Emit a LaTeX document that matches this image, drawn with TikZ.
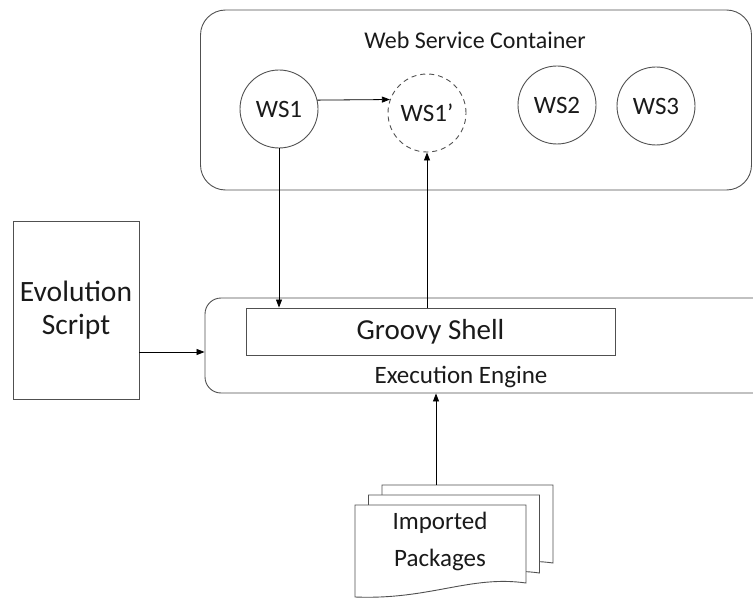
\documentclass[tikz,border=0pt]{standalone}
\usepackage{fontspec}
\setmainfont{Carlito}
\usetikzlibrary{arrows.meta}
\definecolor{ln}{HTML}{505050}
\definecolor{tx}{HTML}{1A1A1A}
\tikzset{
  box/.style={draw=ln, line width=0.9pt, inner sep=0pt, text=tx},
  ws/.style={draw=ln, line width=0.9pt, circle, minimum size=78pt, inner sep=0pt, font=\fontsize{25}{28}\selectfont, text=tx},
  arr/.style={draw=black, line width=0.8pt, -{Triangle[length=8pt,width=6pt]}},
  sheet/.style={draw=ln, line width=0.9pt, fill=white},
}
\begin{document}
\begin{tikzpicture}[x=1pt,y=-1pt]
\useasboundingbox (0,0) rectangle (753,599);
\clip (0,0) rectangle (753,599);
% web service container
\node[box, rounded corners=25pt, minimum width=551pt, minimum height=180pt] (wsc) at (476,100) {};
\node[text=tx, font=\fontsize{24}{28}\selectfont] (wsct) at (475,40) {Web Service Container};
\node[ws] (ws1) at (279,109) {WS1};
\node[ws, dashed, dash pattern=on 5pt off 4pt] (ws1p) at (427,113) {WS1’};
\node[ws] (ws2) at (557,105) {WS2};
\node[ws] (ws3) at (656,106) {WS3};
% execution engine
\node[box, rounded corners=16pt, minimum width=608pt, minimum height=95pt] (exec) at (509,345.5) {};
\node[text=tx, font=\fontsize{25}{28}\selectfont] (exect) at (461,377) {Execution Engine};
\node[box, minimum width=369pt, minimum height=47pt, font=\fontsize{29}{32}\selectfont] (groovy) at (430.5,331.5) {Groovy Shell};
% evolution script
\node[box, minimum width=126pt, minimum height=178pt, align=center, font=\fontsize{29.5}{33}\selectfont] (evo) at (76,310) {Evolution\\Script};
% imported packages
\draw[sheet] (382,485) -- (553,485) -- (553,563) .. controls (497,555) and (457,580) .. (382,577) -- cycle;
\draw[sheet] (368.5,495) -- (539.5,495) -- (539.5,573) .. controls (483.5,565) and (443.5,590) .. (368.5,587) -- cycle;
\draw[sheet] (355,505) -- (526,505) -- (526,583) .. controls (470,575) and (430,600) .. (355,597) -- cycle;
\node[text=tx, align=center, font=\fontsize{25}{37}\selectfont] (pkg) at (440,541) {Imported\\Packages};
\coordinate (pktop) at (436,485);
% connectors
\draw[arr] (ws1.13) -- (ws1p.160);
\draw[arr] (ws1.south) -- (ws1.south |- groovy.north);
\draw[arr] (ws1p.south |- groovy.north) -- (ws1p.south);
\draw[arr] ([yshift=-42pt]evo.east) -- ([yshift=-42pt]evo.east -| exec.west);
\draw[arr] (pktop) -- (pktop |- exec.south);
\end{tikzpicture}
\end{document}
